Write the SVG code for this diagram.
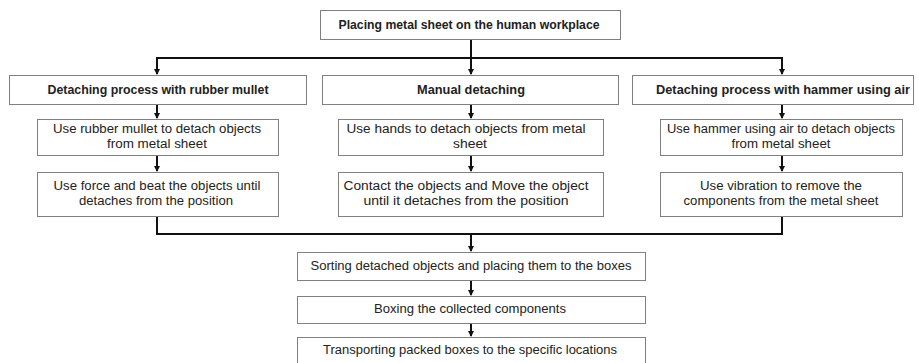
<svg xmlns="http://www.w3.org/2000/svg" width="919" height="363" viewBox="0 0 919 363">
<style>
.box{fill:#fff;stroke:#808080;stroke-width:1}
.t{font-family:"Liberation Sans",Arial,sans-serif;font-size:12.5px;fill:#222;text-anchor:middle}
.b{font-weight:bold}
.c{fill:none;stroke:#111;stroke-width:2}
</style>
<defs>
<marker id="ah" markerWidth="6" markerHeight="6" refX="5" refY="3" orient="auto" markerUnits="userSpaceOnUse">
<path d="M0,0 L6,3 L0,6 z" fill="#111"/>
</marker>
</defs>
<rect width="919" height="363" fill="#fff"/>
<g id="connectors">
<path class="c" d="M471,39 V74" marker-end="url(#ah)"/>
<path class="c" d="M157,74 V58 H782 V74" marker-end="url(#ah)"/>
<path class="c" d="M157,58 V74" marker-end="url(#ah)"/>
<path class="c" d="M157,104 V118" marker-end="url(#ah)"/>
<path class="c" d="M471,104 V118" marker-end="url(#ah)"/>
<path class="c" d="M782,104 V118" marker-end="url(#ah)"/>
<path class="c" d="M157,155 V171" marker-end="url(#ah)"/>
<path class="c" d="M471,155 V171" marker-end="url(#ah)"/>
<path class="c" d="M782,155 V171" marker-end="url(#ah)"/>
<path class="c" d="M157,217 V234 H782 V217"/>
<path class="c" d="M471,234 V251" marker-end="url(#ah)"/>
<path class="c" d="M471,280 V295" marker-end="url(#ah)"/>
<path class="c" d="M471,323 V336" marker-end="url(#ah)"/>
</g>
<g id="n0"><rect class="box" x="320.5" y="10.5" width="300" height="29"/><text class="t b" x="469" y="29" textLength="261" lengthAdjust="spacingAndGlyphs">Placing metal sheet on the human workplace</text></g>
<g id="n1"><rect class="box" x="9.5" y="75.5" width="297" height="29"/><text class="t b" x="158" y="94" textLength="221" lengthAdjust="spacingAndGlyphs">Detaching process with rubber mullet</text></g>
<g id="n2"><rect class="box" x="322.5" y="75.5" width="296" height="29"/><text class="t b" x="471" y="94" textLength="108" lengthAdjust="spacingAndGlyphs">Manual detaching</text></g>
<g id="n3"><rect class="box" x="632.5" y="75.5" width="281" height="29"/><text class="t b" x="783" y="94" textLength="254" lengthAdjust="spacingAndGlyphs">Detaching process with hammer using air</text></g>
<g id="n4"><rect class="box" x="37.5" y="119.5" width="241" height="36"/><text class="t" x="157" y="133" textLength="208" lengthAdjust="spacingAndGlyphs">Use rubber mullet to detach objects</text><text class="t" x="157" y="148" textLength="100" lengthAdjust="spacingAndGlyphs">from metal sheet</text></g>
<g id="n5"><rect class="box" x="338.5" y="119.5" width="265" height="36"/><text class="t" x="466" y="133" textLength="239" lengthAdjust="spacingAndGlyphs">Use hands to detach objects from metal</text><text class="t" x="470" y="148" textLength="34" lengthAdjust="spacingAndGlyphs">sheet</text></g>
<g id="n6"><rect class="box" x="660.5" y="119.5" width="242" height="36"/><text class="t" x="781" y="133" textLength="228" lengthAdjust="spacingAndGlyphs">Use hammer using air to detach objects</text><text class="t" x="781" y="148" textLength="99" lengthAdjust="spacingAndGlyphs">from metal sheet</text></g>
<g id="n7"><rect class="box" x="37.5" y="172.5" width="241" height="44"/><text class="t" x="157" y="190" textLength="207" lengthAdjust="spacingAndGlyphs">Use force and beat the objects until</text><text class="t" x="156" y="205" textLength="154" lengthAdjust="spacingAndGlyphs">detaches from the position</text></g>
<g id="n8"><rect class="box" x="338.5" y="172.5" width="265" height="44"/><text class="t" x="466" y="190" textLength="245" lengthAdjust="spacingAndGlyphs">Contact the objects and Move the object</text><text class="t" x="466" y="205" textLength="205" lengthAdjust="spacingAndGlyphs">until it detaches from the position</text></g>
<g id="n9"><rect class="box" x="660.5" y="172.5" width="242" height="44"/><text class="t" x="781" y="190" textLength="162" lengthAdjust="spacingAndGlyphs">Use vibration to remove the</text><text class="t" x="781" y="205" textLength="195" lengthAdjust="spacingAndGlyphs">components from the metal sheet</text></g>
<g id="n10"><rect class="box" x="297.5" y="252.5" width="348" height="28"/><text class="t" x="471" y="270" textLength="321" lengthAdjust="spacingAndGlyphs">Sorting detached objects and placing them to the boxes</text></g>
<g id="n11"><rect class="box" x="297.5" y="296.5" width="348" height="27"/><text class="t" x="470" y="313" textLength="192" lengthAdjust="spacingAndGlyphs">Boxing the collected components</text></g>
<g id="n12"><rect class="box" x="297.5" y="337.5" width="348" height="30"/><text class="t" x="470" y="354" textLength="294" lengthAdjust="spacingAndGlyphs">Transporting packed boxes to the specific locations</text></g>
</svg>
